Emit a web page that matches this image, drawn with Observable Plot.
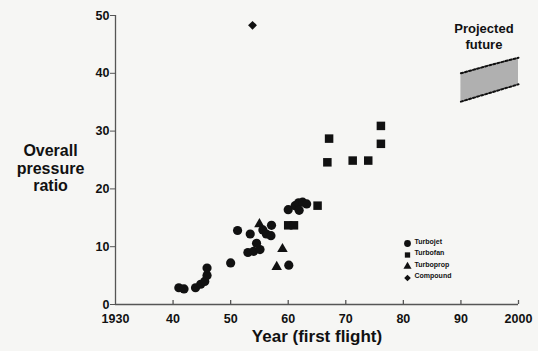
<!DOCTYPE html>
<html>
<head>
<meta charset="utf-8">
<script src="https://cdn.jsdelivr.net/npm/d3@7"></script>
<script src="https://cdn.jsdelivr.net/npm/@observablehq/plot@0.6"></script>
<style>
  html, body { margin: 0; padding: 0; background: #f6f6f4; }
  #chart { width: 538px; height: 351px; }
</style>
</head>
<body>
<div id="chart"></div>
<script>
// ---- data ----
const xTicks = [1930, 1940, 1950, 1960, 1970, 1980, 1990, 2000];
const xTickLabels = ["1930", "40", "50", "60", "70", "80", "90", "2000"];
const yTicks = [0, 10, 20, 30, 40, 50];

const turbojetYears = [1941.0, 1941.9, 1943.9, 1944.8, 1945.5, 1945.9, 1945.9, 1950.0, 1951.2,
  1953.0, 1954.0, 1955.1, 1954.5, 1953.4, 1955.6, 1956.2, 1957.0, 1957.1, 1960.1,
  1960.0, 1961.2, 1961.8, 1962.5, 1963.2, 1961.9];
const turbojetOPR = [2.9, 2.7, 2.9, 3.5, 4.0, 5.0, 6.3, 7.2, 12.8,
  9.0, 9.2, 9.5, 10.6, 12.2, 12.9, 12.2, 11.9, 13.7, 6.8,
  16.4, 17.1, 17.6, 17.7, 17.4, 16.3];

const turbofanYears = [1960.0, 1961.0, 1965.1, 1966.8, 1967.1, 1971.2, 1973.9, 1976.1, 1976.1];
const turbofanOPR = [13.7, 13.7, 17.1, 24.6, 28.7, 24.9, 24.9, 27.8, 30.9];

const turbopropYears = [1955.0, 1958.0, 1959.0];
const turbopropOPR = [13.9, 6.5, 9.6];

const compoundYears = [1953.8];
const compoundOPR = [48.3];

const bandYears = [1990, 1995, 2000];
const bandLow = [35.1, 36.6, 38.1];
const bandHigh = [40.0, 41.4, 42.7];

const legendLabels = ["Turbojet", "Turbofan", "Turboprop", "Compound"];
const legendSymbols = ["circle", "square", "triangle", "diamond2"];

const annotationText = "Projected\nfuture";
const annotationYear = 1994;
const annotationOPR = 46.5;

const xLabel = "Year (first flight)";
const yLabel = "Overall\npressure\nratio";

// ---- tables for the library ----
const toRows = (years, vals) => years.map((y, i) => ({year: y, opr: vals[i]}));
const turbojet = toRows(turbojetYears, turbojetOPR);
const turbofan = toRows(turbofanYears, turbofanOPR);
const turboprop = toRows(turbopropYears, turbopropOPR);
const compound = toRows(compoundYears, compoundOPR);
const band = bandYears.map((y, i) => ({year: y, low: bandLow[i], high: bandHigh[i]}));
const annotation = [{year: annotationYear, opr: annotationOPR, text: annotationText}];

const ink = "#111";
const axisInk = "#555";
const R = 4.6;

const legendMarks = legendLabels.flatMap((lab, i) => [
  Plot.dot([lab], {frameAnchor: "bottom-right", dx: -111, dy: -61 + 11.5 * i,
    symbol: legendSymbols[i], r: i === 0 ? 3.4 : 3.0, fill: ink, stroke: "none"}),
  Plot.text([lab], {frameAnchor: "bottom-right", dx: -104, dy: -61 + 11.5 * i,
    text: d => d, textAnchor: "start", fontSize: 7, fontWeight: "bold", fill: ink})
]);

const chart = Plot.plot({
  width: 538,
  height: 351,
  marginLeft: 115,
  marginRight: 20,
  marginTop: 15,
  marginBottom: 47,
  x: {domain: [1930, 2000]},
  y: {domain: [0, 50]},
  style: {
    background: "#f6f6f4",
    fontFamily: "'Liberation Sans', Arial, sans-serif",
    fontWeight: "bold",
    fontSize: "13px",
    color: ink
  },
  marks: [
    // projected band
    Plot.areaY(band, {x: "year", y1: "low", y2: "high", fill: "#b0b0b0", curve: "linear"}),
    Plot.line(band, {x: "year", y: "high", stroke: ink, strokeWidth: 2, strokeDasharray: "2.2,2"}),
    Plot.line(band, {x: "year", y: "low", stroke: ink, strokeWidth: 2, strokeDasharray: "2.2,2"}),
    Plot.text(annotation, {x: "year", y: "opr", text: "text", fontSize: 13, fontWeight: "bold",
      lineHeight: 1.2, fill: ink}),

    // axes
    Plot.ruleY([0], {stroke: axisInk, strokeWidth: 1.3}),
    Plot.ruleX([1930], {stroke: axisInk, strokeWidth: 1.3}),
    Plot.tickX(xTicks.slice(1), {x: d => d, insetTop: 285, stroke: axisInk, strokeWidth: 1.3}),
    Plot.axisX(xTicks, {tickSize: 0, tickPadding: 10, label: null, fontSize: 12.5, fontWeight: "bold",
      fill: ink, tickFormat: d => xTickLabels[xTicks.indexOf(d)]}),
    Plot.axisY(yTicks, {tickSize: 5, tickPadding: 1, label: null, fontSize: 12.5, fontWeight: "bold",
      fill: ink, stroke: axisInk, tickFormat: d => String(d)}),
    Plot.text([xLabel], {frameAnchor: "bottom", dy: 37, text: d => d, fontSize: 17, fontWeight: "bold",
      fill: ink, letterSpacing: "0.8px"}),
    Plot.text([yLabel], {frameAnchor: "left", dx: -65, dy: 8, text: d => d, fontSize: 16,
      fontWeight: "bold", lineHeight: 1.1, textAnchor: "middle", fill: ink}),

    // data
    Plot.dot(turbojet, {x: "year", y: "opr", symbol: "circle", r: R, fill: ink, stroke: "none"}),
    Plot.dot(turbofan, {x: "year", y: "opr", symbol: "square", r: 4.8, fill: ink, stroke: "none"}),
    Plot.dot(turboprop, {x: "year", y: "opr", symbol: "triangle", r: 3.9, fill: ink, stroke: "none"}),
    Plot.dot(compound, {x: "year", y: "opr", symbol: "diamond2", r: 4.0, fill: ink, stroke: "none"}),

    ...legendMarks
  ]
});

document.getElementById("chart").appendChild(chart);
</script>
</body>
</html>
